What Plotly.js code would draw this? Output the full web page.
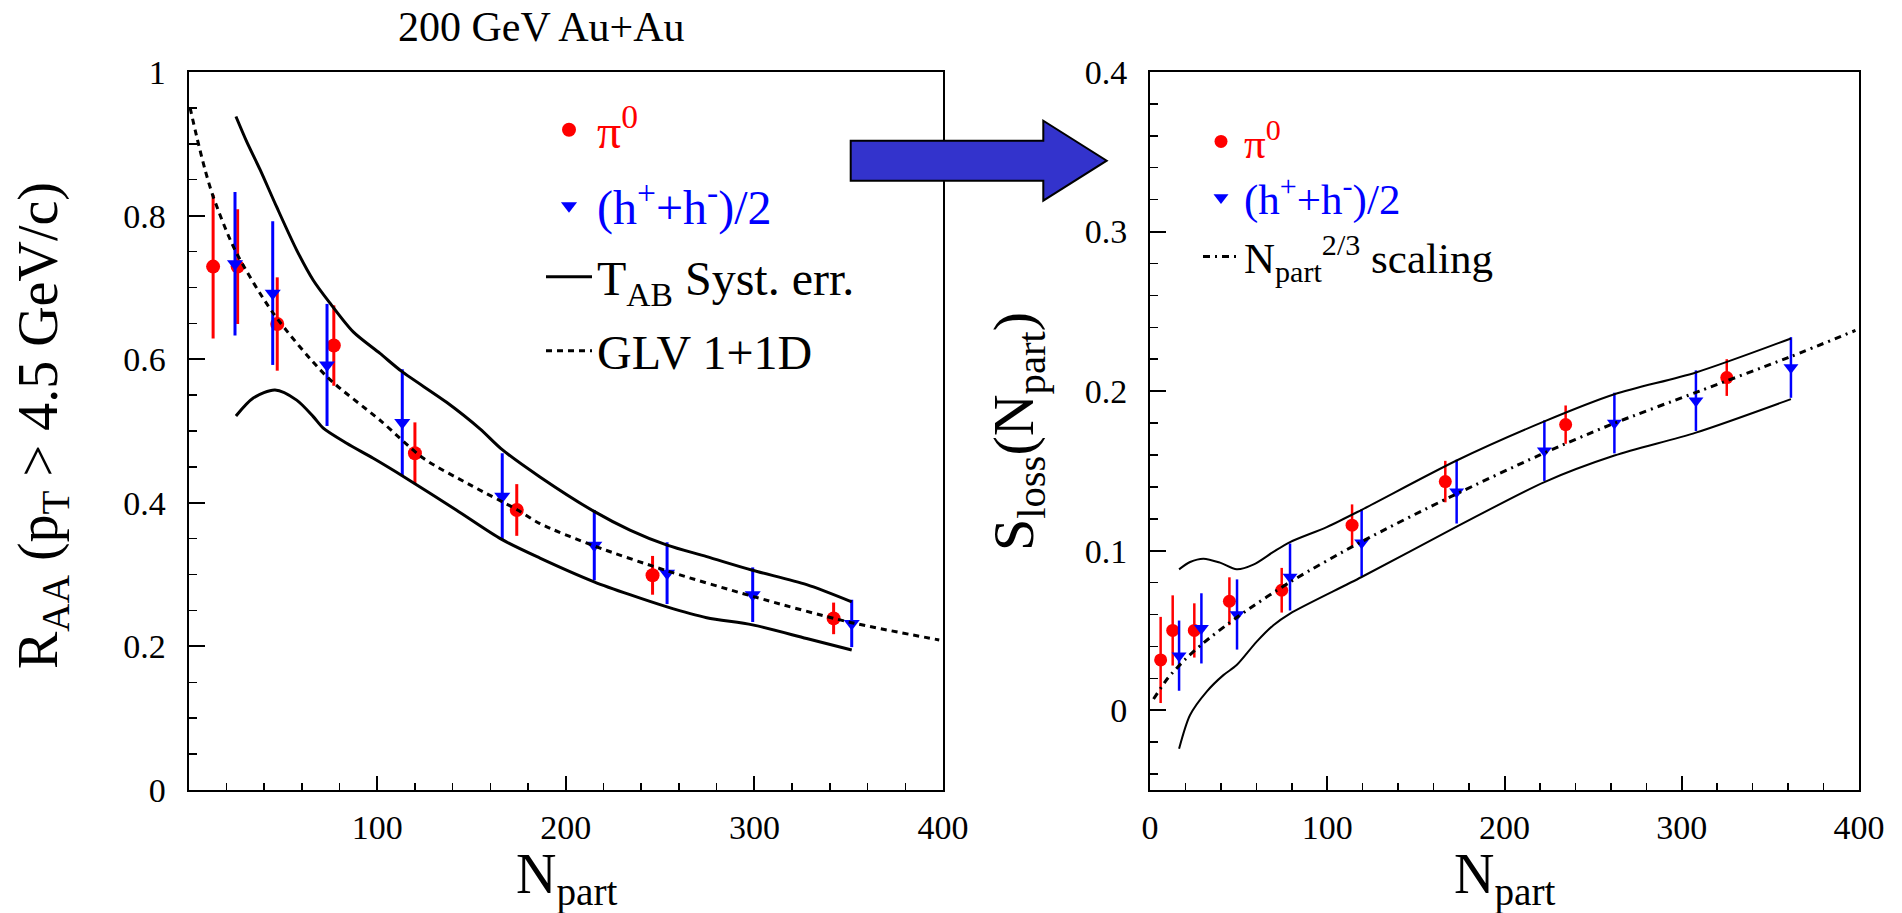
<!DOCTYPE html>
<html><head><meta charset="utf-8">
<script src="https://cdn.plot.ly/plotly-3.0.1.min.js"></script>
<style>html,body{margin:0;padding:0;background:#fff;} #plot{width:1902px;height:913px;}</style>
</head><body><div id="plot"></div>
<script>
// ---------- Left panel: R_AA(pT > 4.5 GeV/c) vs N_part ----------
const pi0L_npart = [13, 26, 47, 77, 120, 174, 246, 342];
const pi0L_raa   = [0.729, 0.729, 0.649, 0.619, 0.469, 0.390, 0.299, 0.239];
const pi0L_err   = [0.100, 0.080, 0.065, 0.056, 0.043, 0.036, 0.027, 0.022];

const hL_npart = [24.6, 44.6, 73.4, 113.3, 166.3, 215.1, 253.7, 299.1, 351.6];
const hL_raa   = [0.733, 0.692, 0.592, 0.512, 0.409, 0.341, 0.302, 0.272, 0.232];
const hL_err   = [0.100, 0.100, 0.085, 0.074, 0.060, 0.049, 0.043, 0.038, 0.033];

const tabHiL_npart = [25.1, 30.8, 37.9, 46.7, 57.3, 66.1, 75.0, 87.3, 101.5, 113.0, 136.8, 154.5, 166.3, 186.3, 215.0, 234.0, 253.7, 274.7, 299.0, 327.7, 351.6];
const tabHiL_raa   = [0.938, 0.903, 0.864, 0.812, 0.752, 0.710, 0.678, 0.638, 0.608, 0.583, 0.540, 0.503, 0.474, 0.436, 0.388, 0.362, 0.341, 0.325, 0.306, 0.286, 0.262];
const tabLoL_npart = [25.1, 34.3, 45.8, 57.3, 66.1, 71.4, 83.8, 97.9, 114.3, 141.9, 166.0, 186.3, 215.0, 234.0, 253.7, 274.7, 299.0, 327.7, 351.6];
const tabLoL_raa   = [0.521, 0.546, 0.557, 0.543, 0.520, 0.504, 0.483, 0.462, 0.436, 0.390, 0.349, 0.323, 0.290, 0.272, 0.255, 0.240, 0.230, 0.211, 0.195];

const glv_npart = [0.8, 4.3, 8.7, 13.1, 24.6, 44.9, 73.2, 101.5, 124.5, 150, 174.4, 186.3, 215, 254, 300, 350, 398];
const glv_raa   = [0.950, 0.910, 0.864, 0.826, 0.752, 0.664, 0.576, 0.515, 0.462, 0.424, 0.390, 0.371, 0.340, 0.305, 0.269, 0.234, 0.209];

// ---------- Right panel: S_loss(N_part) vs N_part ----------
const pi0R_npart = [6.0, 12.8, 25.0, 44.8, 74.3, 114.0, 166.6, 234.5, 325.4];
const pi0R_s     = [0.0315, 0.050, 0.050, 0.0683, 0.0752, 0.116, 0.1433, 0.179, 0.2085];
const pi0R_err   = [0.027, 0.022, 0.017, 0.015, 0.014, 0.013, 0.013, 0.012, 0.0115];

const hR_npart = [16.4, 29.0, 49.1, 79.0, 119.4, 173.0, 222.5, 262.0, 308.0, 361.6];
const hR_s     = [0.0342, 0.0513, 0.060, 0.0835, 0.105, 0.137, 0.1627, 0.180, 0.194, 0.2148];
const hR_err   = [0.022, 0.022, 0.022, 0.021, 0.021, 0.020, 0.019, 0.019, 0.019, 0.019];

const tabHiR_npart = [16.4, 22.6, 30.1, 39.5, 48.9, 58.3, 69.6, 79.0, 99.7, 119.4, 173.0, 222.5, 262.0, 308.0, 361.6];
const tabHiR_s     = [0.0883, 0.0929, 0.095, 0.0925, 0.0883, 0.0912, 0.0992, 0.1054, 0.1148, 0.1256, 0.1565, 0.181, 0.198, 0.2117, 0.233];
const tabLoR_npart = [16.4, 22.6, 32.0, 41.4, 48.9, 60.2, 69.6, 79.0, 119.4, 173.0, 222.5, 262.0, 308.0, 361.6];
const tabLoR_s     = [-0.0242, -0.003, 0.0117, 0.022, 0.0283, 0.043, 0.0533, 0.0606, 0.0835, 0.115, 0.143, 0.1596, 0.174, 0.195];

const scal_npart = [2, 10, 20, 30, 50, 80, 120, 170, 220, 260, 310, 360, 398];
const scal_s     = [0.007, 0.020, 0.032, 0.042, 0.059, 0.081, 0.106, 0.134, 0.160, 0.179, 0.200, 0.221, 0.238];

// tick labels
const xTicksL = [100, 200, 300, 400];
const yTicksL = [0, 0.2, 0.4, 0.6, 0.8, 1];
const xTicksR = [0, 100, 200, 300, 400];
const yTicksR = [0, 0.1, 0.2, 0.3, 0.4];

// ---------- helpers ----------
const W = 1902, H = 913;
const px = x => x / W, py = y => 1 - y / H;
const serif = 'Liberation Serif, Times New Roman, serif';
const RED = '#ff0000', BLUE = '#0000ff';

const traces = [
  {x: pi0L_npart, y: pi0L_raa, type:'scatter', mode:'markers', xaxis:'x', yaxis:'y',
   name:'<span style="color:#ff0000">π<sup>0</sup></span>', legend:'legend', legendgroup:'a',
   marker:{symbol:'circle', size:14, color:RED},
   error_y:{type:'data', array:pi0L_err, visible:true, width:0, thickness:3, color:RED}},
  {x: hL_npart, y: hL_raa, type:'scatter', mode:'markers', xaxis:'x', yaxis:'y',
   name:'<span style="color:#0000ff">(h<sup>+</sup>+h<sup>-</sup>)/2</span>', legend:'legend6', legendgroup:'b',
   marker:{symbol:'triangle-down', size:14, color:BLUE},
   error_y:{type:'data', array:hL_err, visible:true, width:0, thickness:3, color:BLUE}},
  {x: tabHiL_npart, y: tabHiL_raa, type:'scatter', mode:'lines', xaxis:'x', yaxis:'y',
   name:'T<sub>AB</sub> Syst. err.', legend:'legend7', legendgroup:'c',
   line:{color:'black', width:3, shape:'spline', smoothing:0.8}},
  {x: tabLoL_npart, y: tabLoL_raa, type:'scatter', mode:'lines', xaxis:'x', yaxis:'y',
   showlegend:false, line:{color:'black', width:3, shape:'spline', smoothing:0.8}},
  {x: glv_npart, y: glv_raa, type:'scatter', mode:'lines', xaxis:'x', yaxis:'y',
   name:'GLV 1+1D', legend:'legend3', legendgroup:'d',
   line:{color:'black', width:3, dash:'6px,5px', shape:'spline', smoothing:0.8}},

  {x: pi0R_npart, y: pi0R_s, type:'scatter', mode:'markers', xaxis:'x2', yaxis:'y2',
   name:'<span style="color:#ff0000">π<sup>0</sup></span>', legend:'legend2', legendgroup:'e',
   marker:{symbol:'circle', size:13, color:RED},
   error_y:{type:'data', array:pi0R_err, visible:true, width:0, thickness:2.5, color:RED}},
  {x: hR_npart, y: hR_s, type:'scatter', mode:'markers', xaxis:'x2', yaxis:'y2',
   name:'<span style="color:#0000ff">(h<sup>+</sup>+h<sup>-</sup>)/2</span>', legend:'legend4', legendgroup:'f',
   marker:{symbol:'triangle-down', size:13, color:BLUE},
   error_y:{type:'data', array:hR_err, visible:true, width:0, thickness:2.5, color:BLUE}},
  {x: tabHiR_npart, y: tabHiR_s, type:'scatter', mode:'lines', xaxis:'x2', yaxis:'y2',
   showlegend:false, line:{color:'black', width:2, shape:'spline', smoothing:0.8}},
  {x: tabLoR_npart, y: tabLoR_s, type:'scatter', mode:'lines', xaxis:'x2', yaxis:'y2',
   showlegend:false, line:{color:'black', width:2, shape:'spline', smoothing:0.8}},
  {x: scal_npart, y: scal_s, type:'scatter', mode:'lines', xaxis:'x2', yaxis:'y2',
   name:'N<sub>part</sub><sup>2/3</sup> scaling', legend:'legend5', legendgroup:'g',
   line:{color:'black', width:3, dash:'7px,5px,2px,5px', shape:'spline', smoothing:0.8}}
];

const axBase = {showline:true, mirror:true, linecolor:'black', linewidth:2, ticks:'inside',
  tickcolor:'black', tickwidth:2, showgrid:false, zeroline:false,
  tickfont:{family:serif, size:34, color:'black'}, tickmode:'array'};

function leg(x, y, size, iw) {
  return {x:px(x), y:py(y), xanchor:'left', yanchor:'top', bgcolor:'rgba(0,0,0,0)', borderwidth:0,
    font:{family:serif, size:size, color:'black'}, itemwidth:iw};
}

const layout = {
  width: W, height: H, margin:{l:0, r:0, t:0, b:0},
  paper_bgcolor:'white', plot_bgcolor:'white', font:{family:serif, color:'black'},
  xaxis: Object.assign({}, axBase, {domain:[px(188.6), px(943)], range:[0,400], anchor:'y',
    tickvals:xTicksL, ticklen:14, ticklabelstandoff:6,
    minor:{tickmode:'linear', tick0:0, dtick:20, ticklen:7, ticks:'inside', tickcolor:'black', tickwidth:1.5}}),
  yaxis: Object.assign({}, axBase, {domain:[py(790), py(72)], range:[0,1], anchor:'x',
    tickvals:yTicksL, ticklen:16, ticklabelstandoff:14,
    minor:{tickmode:'linear', tick0:0, dtick:0.05, ticklen:8, ticks:'inside', tickcolor:'black', tickwidth:1.5}}),
  xaxis2: Object.assign({}, axBase, {domain:[px(1150), px(1859)], range:[0,400], anchor:'y2',
    tickvals:xTicksR, ticklen:14, ticklabelstandoff:6,
    minor:{tickmode:'linear', tick0:0, dtick:20, ticklen:7, ticks:'inside', tickcolor:'black', tickwidth:1.5}}),
  yaxis2: Object.assign({}, axBase, {domain:[py(790), py(72)], range:[-0.05,0.4], anchor:'x2',
    tickvals:yTicksR, ticklen:16, ticklabelstandoff:14,
    minor:{tickmode:'linear', tick0:0, dtick:0.02, ticklen:8, ticks:'inside', tickcolor:'black', tickwidth:1.5}}),
  legend:  leg(541, 92, 48, 46),
  legend6: leg(541, 168, 48, 46),
  legend7: leg(541, 239, 48, 46),
  legend3: leg(541, 313, 48, 46),
  legend2: leg(1198, 107, 43, 36),
  legend4: leg(1198, 163, 43, 36),
  legend5: leg(1198, 222, 43, 36),
  annotations: [
    {text:'200 GeV Au+Au', xref:'paper', yref:'paper', x:px(541), y:py(27), xanchor:'center', yanchor:'middle',
     showarrow:false, font:{family:serif, size:42, color:'black'}},
    {text:'N<sub>part</sub>', xref:'paper', yref:'paper', x:px(566), y:py(878), xanchor:'center', yanchor:'middle',
     showarrow:false, font:{family:serif, size:56, color:'black'}},
    {text:'N<sub>part</sub>', xref:'paper', yref:'paper', x:px(1504), y:py(878), xanchor:'center', yanchor:'middle',
     showarrow:false, font:{family:serif, size:56, color:'black'}},
    {text:'R<sub>AA</sub> (p<sub>T</sub> > 4.5 GeV/c)', xref:'paper', yref:'paper', x:px(42), y:py(426),
     xanchor:'center', yanchor:'middle', textangle:-90, showarrow:false, font:{family:serif, size:56, color:'black'}},
    {text:'S<sub>loss</sub>(N<sub>part</sub>)', xref:'paper', yref:'paper', x:px(1018), y:py(432),
     xanchor:'center', yanchor:'middle', textangle:-90, showarrow:false, font:{family:serif, size:58, color:'black'}}
  ],
  shapes: [
    {type:'path', xref:'paper', yref:'paper', layer:'above', fillcolor:'#3333cc', line:{color:'black', width:2},
     path: 'M'+px(850.7)+','+py(140.7)+' L'+px(1043.3)+','+py(140.7)+' L'+px(1043.3)+','+py(120.7)+
           ' L'+px(1106.7)+','+py(160.7)+' L'+px(1043.3)+','+py(200.7)+' L'+px(1043.3)+','+py(180.7)+
           ' L'+px(850.7)+','+py(180.7)+' Z'}
  ]
};

Plotly.newPlot('plot', traces, layout, {displayModeBar:false, staticPlot:true});
</script>
</body></html>
